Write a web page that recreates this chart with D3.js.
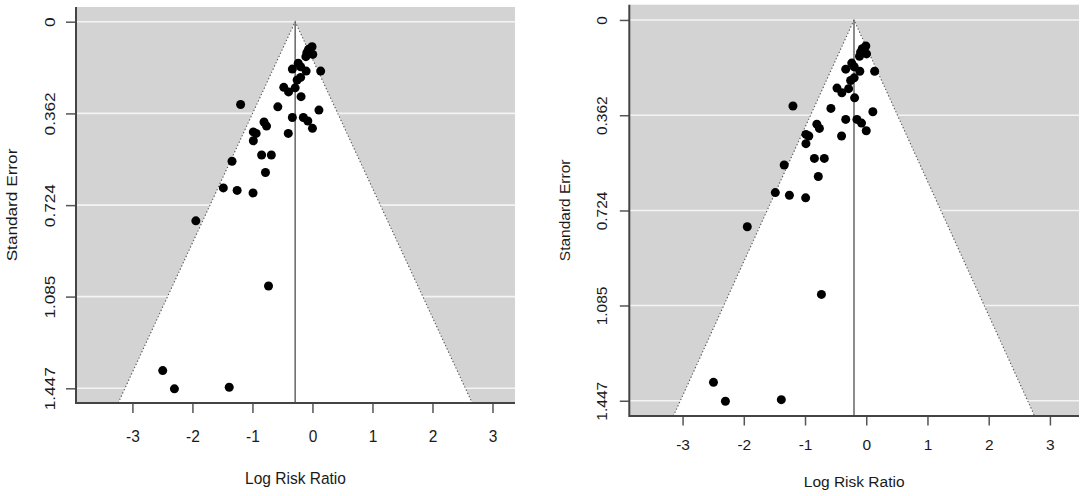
<!DOCTYPE html>
<html>
<head>
<meta charset="utf-8">
<script src="https://cdn.jsdelivr.net/npm/d3@7"></script>
<style>
  html, body { margin: 0; padding: 0; background: #fff; }
  svg { display: block; font-family: "Liberation Sans", Arial, sans-serif; }
</style>
</head>
<body>
<svg id="chart" width="1084" height="496"></svg>
<script>
// ---- data (both panels share the same studies) ----
const studyLogRR = [
  -0.007, -0.065, -0.093, -0.11, 0.005,
  -0.335, -0.237, -0.197, -0.105, 0.137,
  -0.255, -0.197, -0.478, -0.398, -0.288,
  -0.19, -1.197, -0.577, 0.108, -0.335,
  -0.152, -0.077, 0.0, -0.807, -0.765,
  -0.985, -0.938, -0.403, -0.985, -0.847,
  -0.685, -1.34, -0.783, -1.485, -1.255,
  -0.99, -1.943, -0.732, -2.495, -2.3,
  -1.387
];
const studySE = [
  0.099, 0.109, 0.122, 0.138, 0.129,
  0.187, 0.164, 0.178, 0.195, 0.195,
  0.230, 0.220, 0.259, 0.277, 0.261,
  0.296, 0.327, 0.336, 0.349, 0.378,
  0.378, 0.392, 0.421, 0.396, 0.412,
  0.435, 0.441, 0.441, 0.470, 0.526,
  0.526, 0.551, 0.595, 0.656, 0.666,
  0.676, 0.786, 1.043, 1.377, 1.449,
  1.443
];
const pooledEstimates = [-0.288, -0.20];
const seTicks = [0, 0.362, 0.724, 1.085, 1.447];
const seTickLabels = ["0", "0.362", "0.724", "1.085", "1.447"];
const xTicks = [-3, -2, -1, 0, 1, 2, 3];
const xTickLabels = ["-3", "-2", "-1", "0", "1", "2", "3"];
const xLimits = [[-3.94, 3.375], [-3.87, 3.475]];
const yLimits = [-0.058, 1.505];
const xTitle = "Log Risk Ratio";
const yTitle = "Standard Error";

// ---- layout ----
const panels = [
  { x0: 76, x1: 515, y0: 7, y1: 403, tickLen: 10, xLab: 33.7, xTitleOff: 75, yLabX: 49.5, yTitleX: 12,
    vStretch: 1.11, hStretch: 1.06 },
  { x0: 629.3, x1: 1079, y0: 4.7, y1: 416, tickLen: 9.5, xLab: 29, xTitleOff: 65.5, yLabX: 601.5, yTitleX: 565,
    vStretch: 1.0, hStretch: 1.0 }
];

const svg = d3.select("#chart");
const textColor = "#1a1a1a";
const fontSize = 15.5;
const fontFamily = '"Liberation Sans", Arial, sans-serif';

panels.forEach((p, i) => {
  const x = d3.scaleLinear().domain(xLimits[i]).range([p.x0, p.x1]);
  const y = d3.scaleLinear().domain(yLimits).range([p.y0, p.y1]);
  const g = svg.append("g");
  const center = pooledEstimates[i];
  const seMax = yLimits[1];

  // gray background
  g.append("rect")
    .attr("x", p.x0).attr("y", p.y0)
    .attr("width", p.x1 - p.x0).attr("height", p.y1 - p.y0)
    .attr("fill", "#d3d3d3");

  // white horizontal grid lines
  g.selectAll("line.grid").data(seTicks).enter().append("line")
    .attr("class", "grid")
    .attr("x1", p.x0).attr("x2", p.x1)
    .attr("y1", d => y(d)).attr("y2", d => y(d))
    .attr("stroke", "#f4f4f4").attr("stroke-width", 1.6);

  // funnel (white region)
  const funnel = [
    [center - 1.96 * seMax, seMax],
    [center, 0],
    [center + 1.96 * seMax, seMax]
  ];
  g.append("path")
    .attr("d", d3.line().x(d => x(d[0])).y(d => y(d[1]))(funnel) + "Z")
    .attr("fill", "#ffffff");
  // dotted funnel edges
  g.append("path")
    .attr("d", d3.line().x(d => x(d[0])).y(d => y(d[1]))(funnel))
    .attr("fill", "none")
    .attr("stroke", "#555")
    .attr("stroke-width", 1.1)
    .attr("stroke-dasharray", "1.3,2.2");

  // vertical line at pooled estimate
  g.append("line")
    .attr("x1", x(center)).attr("x2", x(center))
    .attr("y1", y(0)).attr("y2", y(seMax))
    .attr("stroke", "#666").attr("stroke-width", 1.5);

  // study points
  g.selectAll("circle.pt").data(studyLogRR.map((v, k) => [v, studySE[k]])).enter()
    .append("circle")
    .attr("class", "pt")
    .attr("cx", d => x(d[0])).attr("cy", d => y(d[1]))
    .attr("r", 4.5)
    .attr("fill", "#000");

  // x axis
  const xAxis = d3.axisBottom(x).tickValues(xTicks)
    .tickFormat((d, k) => xTickLabels[k]).tickSize(p.tickLen);
  const gx = g.append("g").attr("transform", `translate(0,${p.y1})`).call(xAxis);
  gx.select(".domain").remove();
  gx.selectAll(".tick line").attr("stroke", "#555").attr("stroke-width", 1.5);
  gx.selectAll(".tick text")
    .attr("y", null).attr("dy", "0.35em")
    .attr("transform", `translate(0,${p.xLab}) scale(1,${p.hStretch})`)
    .attr("fill", textColor)
    .style("font-size", fontSize + "px")
    .style("font-family", fontFamily);

  // y axis
  const yAxis = d3.axisLeft(y).tickValues(seTicks)
    .tickFormat((d, k) => seTickLabels[k]).tickSize(p.tickLen);
  const gy = g.append("g").attr("transform", `translate(${p.x0},0)`).call(yAxis);
  gy.select(".domain").remove();
  gy.selectAll(".tick line").attr("stroke", "#555").attr("stroke-width", 1.5);
  gy.selectAll(".tick text")
    .attr("x", null).attr("dy", "0.35em")
    .attr("text-anchor", "middle")
    .attr("transform", `translate(${p.yLabX - p.x0},0) scale(1,${p.vStretch}) rotate(-90)`)
    .attr("fill", textColor)
    .style("font-size", fontSize + "px")
    .style("font-family", fontFamily);

  // L-shaped frame
  g.append("path")
    .attr("d", `M${p.x0},${p.y0} L${p.x0},${p.y1} L${p.x1},${p.y1}`)
    .attr("fill", "none").attr("stroke", "#444").attr("stroke-width", 2);

  // titles
  g.append("text")
    .attr("transform", `translate(${(p.x0 + p.x1) / 2},${p.y1 + p.xTitleOff}) scale(1,${p.hStretch})`)
    .attr("dy", "0.35em").attr("text-anchor", "middle")
    .attr("fill", textColor).style("font-size", fontSize + "px")
    .style("font-family", fontFamily)
    .text(xTitle);
  g.append("text")
    .attr("transform", `translate(${p.yTitleX},${(p.y0 + p.y1) / 2}) scale(1,${p.vStretch}) rotate(-90)`)
    .attr("dy", "0.35em").attr("text-anchor", "middle")
    .attr("fill", textColor).style("font-size", fontSize + "px")
    .style("font-family", fontFamily)
    .text(yTitle);
});
</script>
</body>
</html>
